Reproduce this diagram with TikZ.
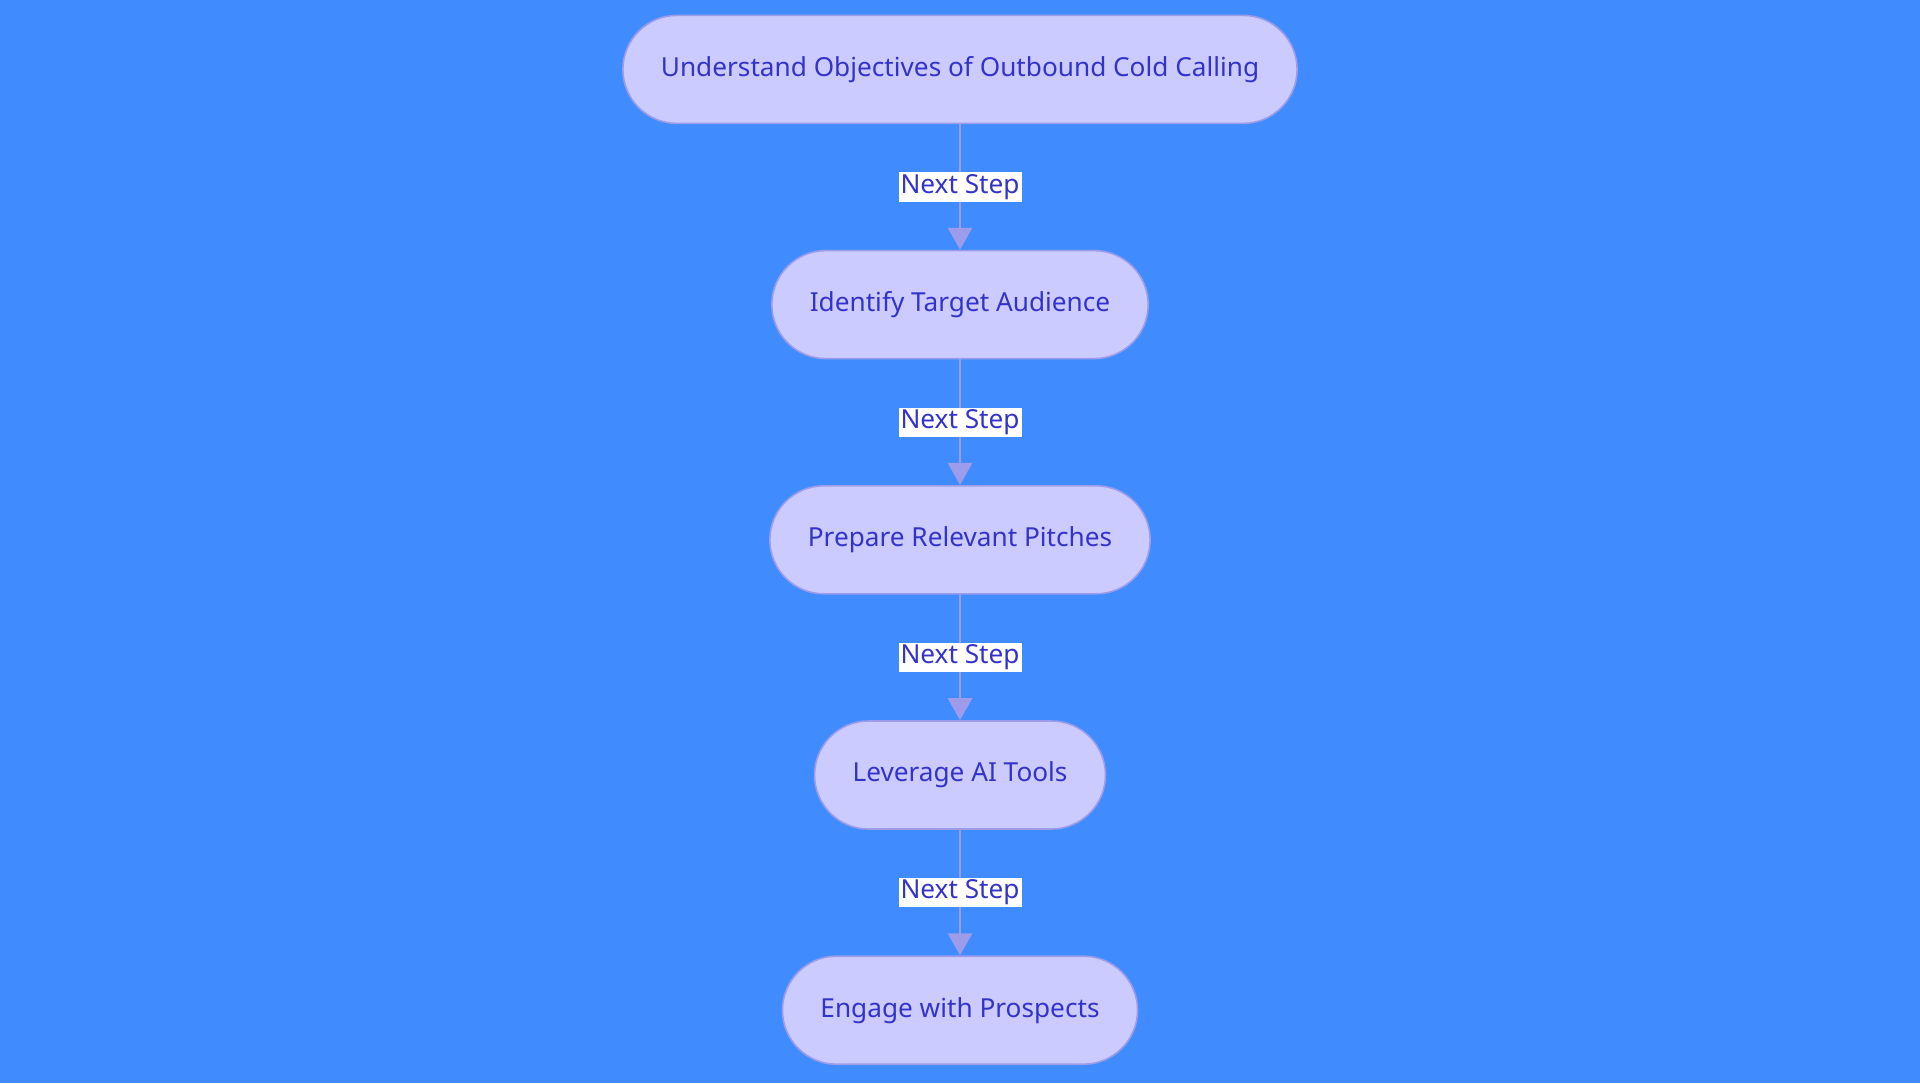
\documentclass[tikz,border=0pt]{standalone}
\usepackage{fontspec}
\setmainfont{Noto Sans}
\usetikzlibrary{positioning,arrows.meta}
\definecolor{bgblue}{HTML}{408CFF}
\definecolor{stepfill}{HTML}{CBCBFF}
\definecolor{stepline}{HTML}{9C9CEA}
\definecolor{steptext}{HTML}{3333CC}
\tikzset{
  stepbox/.style={draw=stepline, line width=0.8pt, fill=stepfill, text=steptext,
    rounded corners=27pt, minimum height=54pt, inner xsep=19pt,
    font=\fontsize{13.1}{15}\selectfont},
  nextlbl/.style={fill=white, text=steptext, inner sep=1pt,
    font=\fontsize{13.1}{15}\selectfont},
  flow/.style={draw=stepline, line width=1.4pt, -{Triangle[width=12pt,length=11pt]}}
}

\begin{document}
\begin{tikzpicture}[node distance=62.8pt]
\useasboundingbox [fill=bgblue] (0,0) rectangle (960pt,541.5pt);
\node [stepbox] (objectives) at (480pt,506.8pt) {Understand Objectives of Outbound Cold Calling};
\node [stepbox, below=of objectives] (audience) {Identify Target Audience};
\node [stepbox, below=of audience] (pitches) {Prepare Relevant Pitches};
\node [stepbox, below=of pitches] (aitools) {Leverage AI Tools};
\node [stepbox, below=of aitools] (prospects) {Engage with Prospects};
\path [flow] (objectives) -- node [nextlbl] {Next Step} (audience);
\path [flow] (audience) -- node [nextlbl] {Next Step} (pitches);
\path [flow] (pitches) -- node [nextlbl] {Next Step} (aitools);
\path [flow] (aitools) -- node [nextlbl] {Next Step} (prospects);
\end{tikzpicture}
\end{document}
